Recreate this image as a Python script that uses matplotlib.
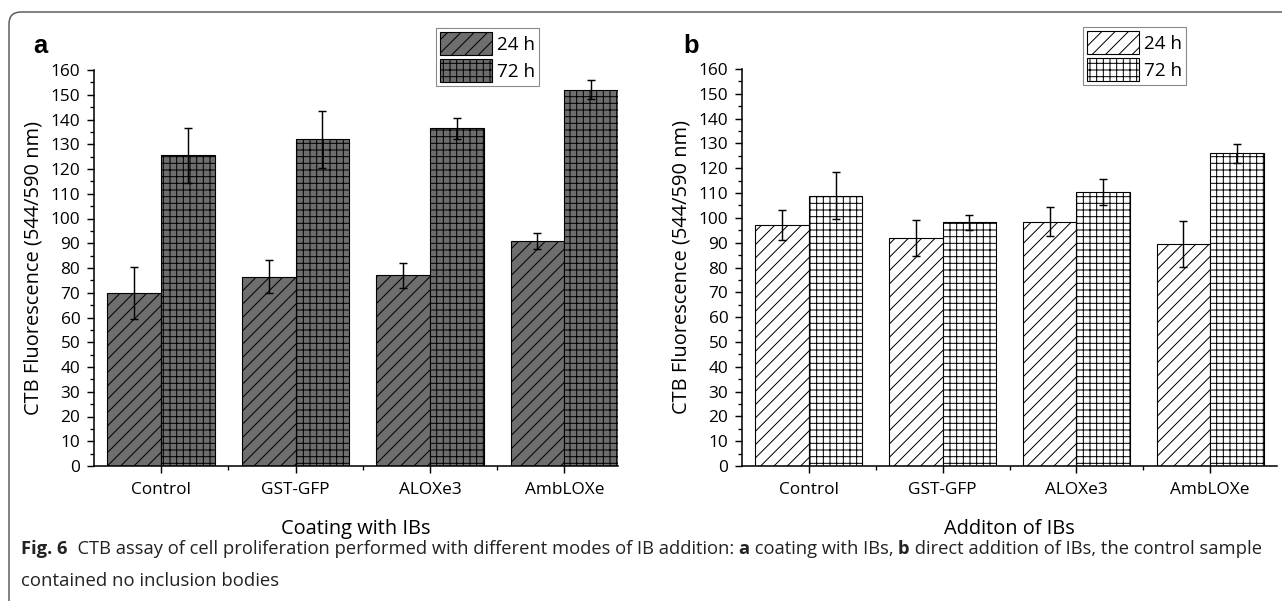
import numpy as np
import matplotlib
matplotlib.use('Agg')
import matplotlib.pyplot as plt
from matplotlib.patches import FancyBboxPatch
from matplotlib.transforms import IdentityTransform

# data
categories = ['Control', 'GST-GFP', 'ALOXe3', 'AmbLOXe']
series = ['24 h', '72 h']

a_24 = [70, 76.5, 77, 91]
a_24_err = [10.5, 6.8, 5, 3.3]
a_72 = [125.5, 132, 136.5, 152]
a_72_err = [11.2, 11.5, 4.3, 3.9]

b_24 = [97, 92, 98.5, 89.5]
b_24_err = [6, 7.3, 6, 9.3]
b_72 = [109, 98.3, 110.5, 126]
b_72_err = [9.6, 3, 5.2, 3.8]

W, H, DPI = 1282, 601, 80
plt.rcParams['font.family'] = ['Open Sans', 'DejaVu Sans']
plt.rcParams['hatch.linewidth'] = 0.9

fig = plt.figure(figsize=(W / DPI, H / DPI), dpi=DPI)

# rounded frame round the whole figure (pixel coords)
frame = FancyBboxPatch((9, -30), 1400, H - 12 + 30,
                       boxstyle='round,pad=0,rounding_size=12',
                       transform=IdentityTransform(), fill=False,
                       edgecolor='#555555', linewidth=1.3)
fig.add_artist(frame)


def panel(rect, v24, e24, v72, e72, face, xlabel, letter, xmax, leg_xy):
    ax = fig.add_axes(rect)
    x = np.arange(1, len(categories) + 1)
    ax.bar(x - 0.2, v24, 0.4, color=face, edgecolor='black', linewidth=1.0,
           hatch='//', label=series[0], zorder=2)
    ax.bar(x + 0.2, v72, 0.4, color=face, edgecolor='black', linewidth=1.0,
           hatch='++', label=series[1], zorder=2)
    ax.errorbar(x - 0.2, v24, yerr=e24, fmt='none', ecolor='black',
                elinewidth=1.3, capsize=3.8, capthick=1.3, zorder=3)
    ax.errorbar(x + 0.2, v72, yerr=e72, fmt='none', ecolor='black',
                elinewidth=1.3, capsize=3.8, capthick=1.3, zorder=3)

    ax.set_xlim(0.5, xmax)
    ax.set_ylim(0, 160)
    ax.set_yticks(np.arange(0, 161, 10))
    ax.set_yticks(np.arange(5, 160, 10), minor=True)
    ax.set_xticks(x)
    ax.set_xticklabels(categories)
    ax.set_xticks([1.5, 2.5, 3.5], minor=True)
    for s in ['top', 'right']:
        ax.spines[s].set_visible(False)
    for s in ['left', 'bottom']:
        ax.spines[s].set_linewidth(1.4)
    ax.tick_params(axis='y', which='major', length=6.3, width=1.3, labelsize=15.5, pad=6)
    ax.tick_params(axis='y', which='minor', length=3.8, width=1.2)
    ax.tick_params(axis='x', which='major', length=6.5, width=1.3, labelsize=15.5, pad=8)
    ax.tick_params(axis='x', which='minor', length=3.8, width=1.2)
    ax.set_ylabel('CTB Fluorescence (544/590 nm)', fontsize=18, labelpad=6)
    ax.set_xlabel(xlabel, fontsize=18, labelpad=19)

    leg = ax.legend(loc='upper left', bbox_to_anchor=leg_xy,
                    bbox_transform=fig.transFigure, fontsize=17,
                    fancybox=False, framealpha=1, edgecolor='#8a8a8a',
                    handlelength=2.75, handleheight=1.5, handletextpad=0.25,
                    labelspacing=0.2, borderpad=0.22, borderaxespad=0)
    leg.get_frame().set_linewidth(1.0)

    fig.text(letter[0] / W, 1 - letter[1] / H, letter[2], fontsize=23,
             fontweight='bold', family='Liberation Sans', va='baseline')
    return ax


panel([94 / W, 1 - 466 / H, (618 - 94) / W, (466 - 70) / H],
      a_24, a_24_err, a_72, a_72_err, '#6e6e6e', 'Coating with IBs',
      (33, 53, 'a'), 4.4, (436 / W, 1 - 28 / H))
panel([742 / W, 1 - 466 / H, (1277 - 742) / W, (466 - 69) / H],
      b_24, b_24_err, b_72, b_72_err, 'white', 'Additon of IBs',
      (683, 53, 'b'), 4.5, (1083 / W, 1 - 27 / H))

# caption, built from bold and regular pieces
renderer = fig.canvas.get_renderer()
runs = [('Fig. 6', 'bold'),
        ('  CTB assay of cell proliferation performed with different modes of IB addition: ', 'normal'),
        ('a', 'bold'),
        (' coating with IBs, ', 'normal'),
        ('b', 'bold'),
        (' direct addition of IBs, the control sample', 'normal')]
cx = 21
for txt, wt in runs:
    t = fig.text(cx / W, 1 - 554 / H, txt, fontsize=16.5, fontweight=wt,
                 color='#222222', va='baseline')
    cx += t.get_window_extent(renderer).width
fig.text(21 / W, 1 - 586 / H, 'contained no inclusion bodies', fontsize=16.7,
         color='#222222', va='baseline')

fig.savefig('out.png', dpi=DPI)
